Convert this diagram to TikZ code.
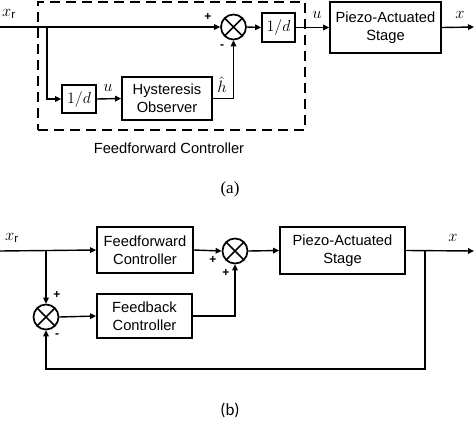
\RequirePackage{fix-cm}
\documentclass[tikz,border=0pt]{standalone}
\usepackage{fontspec}
\setmainfont{Liberation Sans}
\newfontfamily\capserif{Liberation Serif}
\newfontfamily\capsans{Carlito}
\usetikzlibrary{arrows.meta}
\begin{document}
\begin{tikzpicture}[x=1pt,y=-1pt,
  every node/.style={font=\fontsize{14.7}{18}\selectfont},
  wire/.style={line width=1.4pt},
  arr/.style={wire,-{Triangle[length=6pt,width=5.5pt]}},
  blk/.style={draw,line width=1.7pt,align=center,inner sep=0pt},
  sumnode/.style={draw,circle,line width=1.7pt,minimum size=25pt,inner sep=0pt,
    path picture={\draw[line width=1.6pt] (path picture bounding box.north west)--(path picture bounding box.south east)
      (path picture bounding box.north east)--(path picture bounding box.south west);}},
  sgn/.style={font=\fontsize{12}{12}\selectfont\bfseries,inner sep=0pt},
  mlab/.style={font=\fontsize{16.5}{18}\selectfont,inner sep=0pt},
  dashbox/.style={draw,line width=2pt,dash pattern=on 10pt off 6pt,inner sep=0pt}
]
\useasboundingbox (0,0) rectangle (474,428);
% ---------- panel (a)
\node[dashbox,minimum width=267pt,minimum height=128pt] (ffbox) at (171.5,66) {};
\coordinate (xra) at (0,27);
\node[mlab] (xrla) at (9,14) {$x_{\mathrm{r}}$};
\node[sumnode] (s1) at (233.5,27) {};
\node[blk,minimum width=34pt,minimum height=28pt] (d1) at (79,99) {\fontsize{16}{18}\selectfont$1/d$};
\node[blk,minimum width=90pt,minimum height=43pt] (hyst) at (167,98.5) {Hysteresis\\Observer};
\node[blk,minimum width=33pt,minimum height=29pt] (d2) at (278.5,27.5) {\fontsize{16}{18}\selectfont$1/d$};
\node[blk,minimum width=111pt,minimum height=51pt] (pa) at (385.5,27.5) {Piezo-Actuated\\Stage};
\coordinate (outa) at (474,27);
\coordinate (br1) at (47,27);
\draw[arr] (xra) -- (s1.west);
\draw[arr] (br1) |- (d1.west);
\draw[arr] (d1.east) -- (hyst.west);
\draw[arr] (hyst.east) -| (s1.south);
\draw[arr] (s1.east) -- (d2.west);
\draw[arr] (d2.east) -- (pa.west);
\draw[arr] (pa.east) -- (outa);
\node[sgn] (pa1) at (208,17) {+};
\node[sgn] (ma1) at (222,47) {-};
\node[mlab] (ua1) at (108,88) {$u$};
\node[mlab] (ha) at (222,85) {$\hat{h}$};
\node[mlab] (ua2) at (317,15) {$u$};
\node[mlab] (xa) at (460,15) {$x$};
\node (ffl) at (169,148) {Feedforward Controller};
\node[font=\capserif\fontsize{17}{18}\selectfont] (capa) at (230,189) {(a)};
% ---------- panel (b)
\coordinate (xrb) at (0,251);
\node[mlab] (xrlb) at (12,238) {$x_{\mathrm{r}}$};
\node[blk,minimum width=96pt,minimum height=46pt] (ffb) at (145,250) {Feedforward\\Controller};
\node[sumnode] (s2) at (235,251) {};
\node[blk,minimum width=125pt,minimum height=47pt] (pb) at (342.5,250.5) {Piezo-Actuated\\Stage};
\coordinate (outb) at (474,251);
\node[mlab] (xb) at (453,238) {$x$};
\node[sumnode] (s3) at (46,317) {};
\node[blk,minimum width=95pt,minimum height=44pt] (fbb) at (144.5,316) {Feedback\\Controller};
\coordinate (br2) at (46,251);
\coordinate (br3) at (425,251);
\coordinate (fbk) at (425,369);
\draw[arr] (xrb) -- (ffb.west);
\draw[arr] (ffb.east) -- (s2.west);
\draw[arr] (s2.east) -- (pb.west);
\draw[arr] (pb.east) -- (outb);
\draw[arr] (br2) -- (s3.north);
\draw[arr] (s3.east) -- (fbb.west);
\draw[arr] (fbb.east) -| (s2.south);
\draw[arr] (br3) -- (fbk) -| (s3.south);
\node[sgn] (pb1) at (213,260) {+};
\node[sgn] (pb2) at (226,273) {+};
\node[sgn] (pb3) at (57,295) {+};
\node[sgn] (mb1) at (57,336) {-};
\node[font=\capsans\fontsize{17}{18}\selectfont] (capb) at (230,410) {(b)};
\end{tikzpicture}
\end{document}
